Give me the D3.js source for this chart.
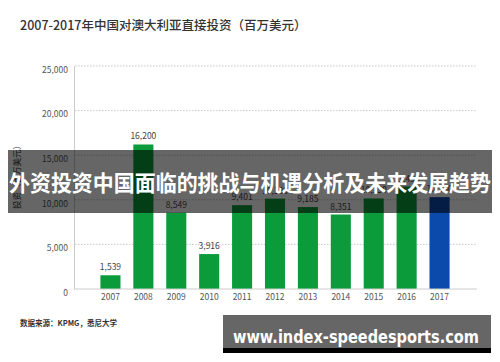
<!DOCTYPE html>
<html><head><meta charset="utf-8">
<script src="https://cdn.jsdelivr.net/npm/d3@7"></script>
<style>body{margin:0;background:#fff;}svg{display:block;}</style>
</head><body>
<svg id="c" width="500" height="362"></svg>
<script>
const years = ["2007","2008","2009","2010","2011","2012","2013","2014","2015","2016","2017"];
const values = [1539,16200,8549,3916,9401,10130,9185,8351,10150,11490,10300];
const yTicks = [0,5000,10000,15000,20000,25000];
const titleText = "2007-2017年中国对澳大利亚直接投资（百万美元）";
const yLabel = "投资（百万美元）";
const sourceText = "数据来源：KPMG，悉尼大学";
const bannerText = "外资投资中国面临的挑战与机遇分析及未来发展趋势";
const siteText = "www.index-speedesports.com";

const svg = d3.select("#c");
const font = "'Noto Sans CJK SC','Noto Sans',sans-serif";
const x = d3.scaleBand().domain(years).range([94,456]).paddingInner(0.39).paddingOuter(0.195);
const y = d3.scaleLinear().domain([0,25000]).range([289,66]);

svg.append("text").attr("x",20).attr("y",30).attr("font-family",font).attr("font-size",12.5)
  .attr("font-weight",500).attr("fill","#333").text(titleText);

// gridlines
svg.append("g").selectAll("line").data(yTicks.filter(d=>d>0)).join("line")
  .attr("x1",75).attr("x2",477).attr("y1",d=>y(d)).attr("y2",d=>y(d))
  .attr("stroke","#bbb").attr("stroke-width",0.8).attr("stroke-dasharray","1.5,1.5");

// y axis
const ya = d3.axisLeft(y).tickValues(yTicks).tickFormat(d3.format(",")).tickSize(0).tickPadding(6);
const yg = svg.append("g").attr("transform","translate(74,0)").call(ya);
yg.select(".domain").attr("stroke","#ccc");
yg.selectAll("text").attr("font-family",font).attr("font-size",8.5).attr("fill","#555").attr("dy","0.75em");

svg.append("text").attr("transform","translate(20,175) rotate(-90)").attr("text-anchor","middle")
  .attr("font-family",font).attr("font-size",8.5).attr("fill","#333").text(yLabel);

// bars
svg.append("g").selectAll("rect").data(years).join("rect")
  .attr("x",d=>x(d)).attr("width",x.bandwidth())
  .attr("y",(d,i)=>y(values[i])).attr("height",(d,i)=>y(0)-y(values[i]))
  .attr("fill",d=>d==="2017"?"#0b49aa":"#0c9b3a");

// baseline
svg.append("line").attr("x1",74).attr("x2",477).attr("y1",y(0)).attr("y2",y(0)).attr("stroke","#ccc");

// x axis
const xa = d3.axisBottom(x).tickSize(0).tickPadding(5);
const xg = svg.append("g").attr("transform",`translate(0,${y(0)})`).call(xa);
xg.select(".domain").remove();
xg.selectAll("text").attr("font-family",font).attr("font-size",8.5).attr("fill","#555");

// value labels
svg.append("g").selectAll("text").data(years).join("text")
  .attr("x",d=>x(d)+x.bandwidth()/2).attr("y",(d,i)=>y(values[i])-5)
  .attr("text-anchor","middle").attr("font-family",font).attr("font-size",8.5).attr("fill","#444")
  .text((d,i)=>d3.format(",")(values[i]));

svg.append("text").attr("x",20).attr("y",326).attr("font-family",font).attr("font-size",7.5)
  .attr("font-weight",700).attr("fill","#333").text(sourceText);

// banner
svg.append("rect").attr("x",8).attr("y",150).attr("width",484).attr("height",63).attr("fill","rgba(0,0,0,0.6)");
svg.append("text").attr("x",250).attr("y",191).attr("text-anchor","middle").attr("font-family",font)
  .attr("font-size",22).attr("font-weight",700).attr("fill","#fff")
  .attr("textLength",482).attr("lengthAdjust","spacingAndGlyphs").text(bannerText);

// site watermark
svg.append("rect").attr("x",223).attr("y",315).attr("width",268).attr("height",38).attr("fill","#000");
svg.append("rect").attr("x",223).attr("y",315).attr("width",268).attr("height",33).attr("fill","#666");
svg.append("text").attr("x",233).attr("y",343).attr("font-family","'DejaVu Sans',sans-serif")
  .attr("font-size",17).attr("font-weight",700).attr("fill","#fff")
  .attr("textLength",246).attr("lengthAdjust","spacingAndGlyphs").text(siteText);
</script>
</body></html>
